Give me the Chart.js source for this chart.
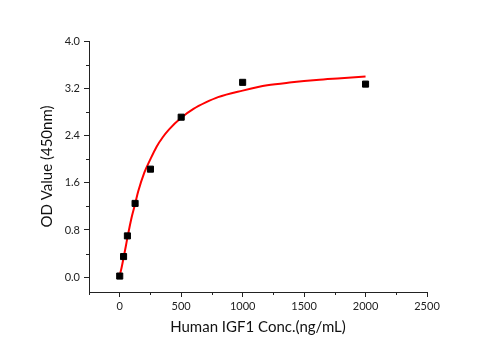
<!DOCTYPE html>
<html><head><meta charset="utf-8">
<script src="https://cdn.jsdelivr.net/npm/chart.js@4/dist/chart.umd.min.js"></script>
<style>html,body{margin:0;padding:0;background:#fff;}#wrap{width:496px;height:350px;}</style>
</head><body><div id="wrap"><canvas id="c" width="496" height="350"></canvas></div>
<script>
// Measured standards
const concentrations = [0, 31.25, 62.5, 125, 250, 500, 1000, 2000];
const odValues = [0.02, 0.35, 0.70, 1.25, 1.83, 2.71, 3.30, 3.27];
// Fitted curve
const fitX = [0, 15, 31.25, 50, 62.5, 80, 100, 125, 150, 200, 250, 300, 350, 400, 500, 600, 700, 800, 1000, 1200, 1400, 1600, 1800, 2000];
const fitY = [0.03, 0.16, 0.33, 0.53, 0.67, 0.85, 1.04, 1.24, 1.45, 1.77, 2.00, 2.21, 2.37, 2.50, 2.70, 2.85, 2.96, 3.05, 3.16, 3.25, 3.30, 3.34, 3.37, 3.40];
// Axis ticks
const xMajorTicks = [0, 500, 1000, 1500, 2000, 2500];
const xMinorTicks = [-250, 250, 750, 1250, 1750, 2250];
const yMajorTicks = [0.0, 0.8, 1.6, 2.4, 3.2, 4.0];
const yMinorTicks = [0.4, 1.2, 2.0, 2.8, 3.6];

const axisColor = '#222';
const FONT = 'Lato, "Open Sans", sans-serif';

const minorTickPlugin = {
  id: 'minorTicks',
  afterDraw(chart) {
    const {ctx, scales: {x, y}} = chart;
    ctx.save();
    ctx.strokeStyle = axisColor;
    ctx.lineWidth = 1;
    ctx.beginPath();
    xMinorTicks.forEach(v => {
      const px = Math.round(x.getPixelForValue(v)) + 0.5;
      ctx.moveTo(px, x.top);
      ctx.lineTo(px, x.top + 3);
    });
    yMinorTicks.forEach(v => {
      const py = Math.round(y.getPixelForValue(v)) + 0.5;
      ctx.moveTo(y.right, py);
      ctx.lineTo(y.right - 3, py);
    });
    ctx.stroke();
    ctx.restore();
  }
};

new Chart(document.getElementById('c'), {
  type: 'scatter',
  data: {
    datasets: [
      {
        label: 'Standards',
        data: concentrations.map((c, i) => ({x: c, y: odValues[i]})),
        pointStyle: 'rect',
        pointRadius: 4.3,
        backgroundColor: '#000',
        borderColor: '#000',
        borderWidth: 1,
        showLine: false,
        order: 0
      },
      {
        label: 'Fit',
        data: fitX.map((c, i) => ({x: c, y: fitY[i]})),
        showLine: true,
        borderColor: '#ff0000',
        borderWidth: 2,
        pointRadius: 0,
        cubicInterpolationMode: 'monotone',
        fill: false,
        order: 1
      }
    ]
  },
  options: {
    responsive: false,
    animation: false,
    devicePixelRatio: 1,
    layout: {padding: {top: 41, right: 69, bottom: 0, left: 0}},
    plugins: {legend: {display: false}, tooltip: {enabled: false}},
    scales: {
      x: {
        type: 'linear',
        min: -250, max: 2500,
        afterBuildTicks: s => { s.ticks = xMajorTicks.map(v => ({value: v})); },
        afterFit: s => { s.height = 58; },
        border: {display: true, color: axisColor, width: 1},
        grid: {display: true, drawOnChartArea: false, drawTicks: true, tickLength: 5, color: axisColor},
        ticks: {color: axisColor, padding: 3, font: {family: FONT, size: 11}, callback: v => String(v), maxRotation: 0, autoSkip: false},
        title: {display: true, text: 'Human IGF1 Conc.(ng/mL)', color: '#111', font: {family: FONT, size: 15}, padding: {top: 0, bottom: 14}}
      },
      y: {
        type: 'linear',
        min: -0.25, max: 4.0,
        afterBuildTicks: s => { s.ticks = yMajorTicks.map(v => ({value: v})); },
        afterFit: s => { s.width = 89; },
        border: {display: true, color: axisColor, width: 1},
        grid: {display: true, drawOnChartArea: false, drawTicks: true, tickLength: 5, color: axisColor},
        ticks: {color: axisColor, padding: 4, font: {family: FONT, size: 11}, callback: v => Number(v).toFixed(1), autoSkip: false},
        title: {display: true, text: 'OD Value (450nm)', color: '#111', font: {family: FONT, size: 15}, padding: {top: 38, bottom: 0}}
      }
    }
  },
  plugins: [minorTickPlugin]
});
</script>
</body></html>
